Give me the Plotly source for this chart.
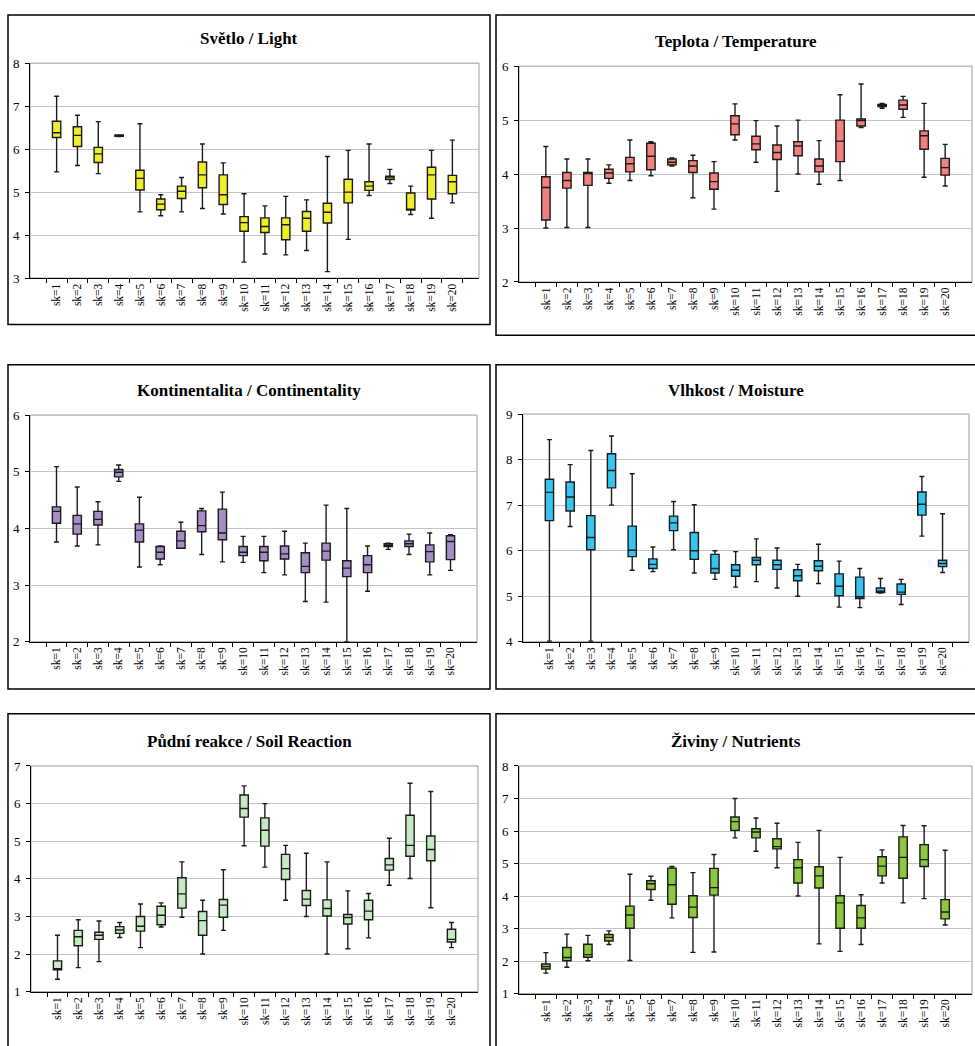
import plotly.graph_objects as go

cats = ["sk=%d" % i for i in range(1, 21)]

# Světlo / Light
light_lo = [5.47,5.62,5.43,6.29,4.54,4.45,4.54,4.62,4.49,3.37,3.56,3.54,3.64,3.15,3.90,4.92,5.20,4.48,4.39,4.75]
light_q1 = [6.27,6.06,5.69,6.30,5.05,4.59,4.85,5.10,4.71,4.09,4.06,3.89,4.09,4.28,4.75,5.04,5.29,4.58,4.84,4.96]
light_med = [6.38,6.32,5.89,6.31,5.32,4.72,5.02,5.40,4.94,4.29,4.20,4.24,4.39,4.53,5.00,5.14,5.33,4.60,5.40,5.24]
light_q3 = [6.65,6.52,6.04,6.33,5.51,4.84,5.14,5.70,5.40,4.43,4.40,4.40,4.55,4.74,5.30,5.24,5.37,4.98,5.58,5.39]
light_hi = [7.23,6.79,6.64,6.33,6.59,4.94,5.34,6.12,5.68,4.96,4.68,4.90,4.82,5.83,5.97,6.12,5.53,5.14,5.97,6.21]

# Teplota / Temperature
temp_lo = [3.00,3.01,3.01,3.83,3.88,3.97,4.15,3.56,3.35,4.63,4.22,3.68,4.00,3.81,3.88,4.86,5.22,5.05,3.94,3.78]
temp_q1 = [3.15,3.74,3.79,3.92,4.04,4.08,4.17,4.03,3.72,4.73,4.45,4.27,4.34,4.04,4.23,4.89,5.25,5.20,4.46,3.98]
temp_med = [3.75,3.88,4.01,4.02,4.19,4.33,4.22,4.15,3.86,4.93,4.56,4.40,4.52,4.15,4.61,4.99,5.27,5.28,4.71,4.12]
temp_q3 = [3.95,4.03,4.03,4.09,4.31,4.57,4.28,4.25,4.02,5.08,4.70,4.54,4.60,4.28,5.00,5.02,5.29,5.37,4.80,4.29]
temp_hi = [4.51,4.28,4.28,4.17,4.63,4.60,4.30,4.35,4.23,5.30,4.99,4.89,5.00,4.62,5.47,5.67,5.31,5.44,5.31,4.55]

# Kontinentalita / Continentality
cont_lo = [3.76,3.69,3.71,4.83,3.32,3.36,3.65,3.54,3.41,3.40,3.22,3.18,2.71,2.70,2.00,2.89,3.63,3.54,3.18,3.26]
cont_q1 = [4.09,3.90,4.06,4.91,3.76,3.46,3.65,3.94,3.80,3.52,3.43,3.46,3.22,3.44,3.15,3.22,3.68,3.68,3.41,3.45]
cont_med = [4.30,4.08,4.16,4.99,3.97,3.58,3.78,4.05,3.92,3.58,3.58,3.55,3.33,3.60,3.30,3.36,3.70,3.73,3.59,3.77]
cont_q3 = [4.38,4.23,4.30,5.04,4.08,3.68,3.95,4.31,4.34,3.68,3.68,3.69,3.57,3.74,3.43,3.52,3.73,3.78,3.71,3.87]
cont_hi = [5.09,4.73,4.47,5.12,4.55,3.69,4.11,4.35,4.64,3.86,3.86,3.95,3.74,4.41,4.35,3.69,3.74,3.90,3.92,3.89]

# Vlhkost / Moisture
moist_lo = [4.01,6.53,4.01,7.00,5.57,5.54,6.02,5.51,5.37,5.20,5.32,5.18,5.00,5.28,4.76,4.75,5.07,4.82,6.32,5.52]
moist_q1 = [6.66,6.87,6.02,7.38,5.87,5.61,6.44,5.81,5.51,5.44,5.69,5.59,5.34,5.56,5.01,4.95,5.08,5.04,6.78,5.65]
moist_med = [7.28,7.18,6.29,7.76,6.01,5.70,6.61,6.00,5.61,5.57,5.79,5.69,5.45,5.66,5.22,4.99,5.11,5.09,7.02,5.72]
moist_q3 = [7.57,7.51,6.77,8.13,6.54,5.82,6.76,6.40,5.92,5.69,5.85,5.79,5.58,5.78,5.49,5.42,5.18,5.27,7.29,5.79]
moist_hi = [8.44,7.89,8.20,8.52,7.69,6.08,7.08,7.01,6.00,5.98,6.26,6.06,5.70,6.14,5.77,5.61,5.39,5.37,7.63,6.81]

# Půdní reakce / Soil Reaction
soil_lo = [1.33,1.64,1.80,2.44,2.17,2.72,2.98,2.00,2.63,4.88,4.31,3.43,3.00,2.00,2.14,2.43,3.83,4.01,3.23,2.17]
soil_q1 = [1.58,2.22,2.39,2.55,2.61,2.78,3.22,2.50,2.98,5.64,4.87,3.98,3.29,3.01,2.80,2.91,4.23,4.60,4.48,2.32]
soil_med = [1.61,2.46,2.50,2.64,2.74,3.03,3.60,2.89,3.30,5.87,5.29,4.27,3.46,3.21,2.97,3.14,4.37,4.89,4.78,2.39]
soil_q3 = [1.82,2.63,2.58,2.73,3.00,3.27,4.03,3.13,3.45,6.23,5.62,4.65,3.69,3.44,3.05,3.43,4.54,5.69,5.14,2.66]
soil_hi = [2.50,2.91,2.88,2.84,3.33,3.36,4.45,3.43,4.24,6.47,6.00,4.89,4.68,4.45,3.68,3.61,5.08,6.54,6.32,2.84]

# Živiny / Nutrients
nutr_lo = [1.63,1.81,2.01,2.51,2.02,3.87,3.33,2.27,2.28,5.79,5.38,4.87,4.00,2.53,2.30,2.51,4.40,3.79,3.92,3.11]
nutr_q1 = [1.76,2.01,2.12,2.62,3.01,4.20,3.75,3.34,4.03,6.02,5.79,5.45,4.40,4.25,3.01,3.01,4.62,4.55,4.91,3.30]
nutr_med = [1.83,2.11,2.20,2.73,3.42,4.38,4.35,3.66,4.26,6.29,5.97,5.52,4.87,4.62,3.79,3.33,4.92,5.19,5.12,3.51]
nutr_q3 = [1.91,2.42,2.52,2.82,3.69,4.47,4.86,4.01,4.85,6.43,6.07,5.76,5.12,4.90,4.01,3.71,5.21,5.82,5.58,3.89]
nutr_hi = [2.26,2.83,2.79,2.93,4.67,4.61,4.91,4.72,5.28,7.00,6.40,6.24,5.65,6.02,5.19,4.04,5.42,6.17,6.16,5.41]

titles = ["Světlo / Light", "Teplota / Temperature", "Kontinentalita / Continentality",
          "Vlhkost / Moisture", "Půdní reakce / Soil Reaction", "Živiny / Nutrients"]

W, H = 975, 1046
FONT = "Liberation Serif, Times New Roman, serif"

panels = [
    dict(stats=(light_lo, light_q1, light_med, light_q3, light_hi), color="#EEEE2C", yr=(3, 8),
         frame=(8, 8, 490, 322), plot=(30, 57, 479, 275), ty=32),
    dict(stats=(temp_lo, temp_q1, temp_med, temp_q3, temp_hi), color="#F2807E", yr=(2, 6),
         frame=(496, 8, 980, 333), plot=(519, 60, 972, 279), ty=35),
    dict(stats=(cont_lo, cont_q1, cont_med, cont_q3, cont_hi), color="#A78DC6", yr=(2, 6),
         frame=(8, 363, 490, 692), plot=(30, 414, 477, 644), ty=389),
    dict(stats=(moist_lo, moist_q1, moist_med, moist_q3, moist_hi), color="#35C5EF", yr=(4, 9),
         frame=(496, 363, 980, 692), plot=(523, 413, 969, 644), ty=389),
    dict(stats=(soil_lo, soil_q1, soil_med, soil_q3, soil_hi), color="#C6E8C3", yr=(1, 7),
         frame=(8, 717, 490, 1060), plot=(31, 770, 478, 999), ty=745),
    dict(stats=(nutr_lo, nutr_q1, nutr_med, nutr_q3, nutr_hi), color="#8DC63F", yr=(1, 8),
         frame=(496, 717, 980, 1060), plot=(519, 770, 972, 1001), ty=745),
]


def px(x):
    return x / W


def py(y):
    return 1 - y / H


fig = go.Figure()
layout = dict(width=W, height=H, margin=dict(l=0, r=0, t=0, b=0),
              paper_bgcolor="white", plot_bgcolor="white", showlegend=False,
              font=dict(family=FONT, color="black"))
shapes = []
annotations = []

for i, p in enumerate(panels):
    n = "" if i == 0 else str(i + 1)
    lo, q1, med, q3, hi = p["stats"]
    fig.add_trace(go.Box(
        x=cats, q1=q1, median=med, q3=q3, lowerfence=lo, upperfence=hi,
        fillcolor=p["color"], line=dict(color="#1a1a1a", width=1.4),
        width=0.4, whiskerwidth=0.6, boxpoints=False,
        xaxis="x" + n, yaxis="y" + n, showlegend=False))
    x0, y0, x1, y1 = p["plot"]
    layout["xaxis" + n] = dict(
        domain=[px(x0), min(px(x1), 1)], anchor="y" + n, type="category",
        showline=True, linecolor="black", linewidth=1, ticks="outside", tickson="boundaries",
        ticklen=4, tickcolor="black", tickangle=-90, showgrid=False,
        tickfont=dict(family=FONT, size=11.5, color="black"), fixedrange=True)
    layout["yaxis" + n] = dict(
        domain=[py(y1), py(y0)], anchor="x" + n, range=list(p["yr"]), dtick=1,
        showline=True, linecolor="black", linewidth=1, ticks="outside", ticklen=4,
        tickcolor="black", showgrid=True, gridcolor="#C4C4C4", gridwidth=1, zeroline=False,
        ticklabelstandoff=3,
        tickfont=dict(family=FONT, size=13, color="black"), fixedrange=True)
    shapes.append(dict(type="rect", xref="x%s domain" % n, yref="y%s domain" % n,
                       x0=0, x1=1, y0=0, y1=1, line=dict(color="#9A9A9A", width=1), layer="below"))
    fx0, fy0, fx1, fy1 = p["frame"]
    shapes.append(dict(type="rect", xref="paper", yref="paper",
                       x0=px(fx0), x1=px(fx1), y0=py(fy1), y1=py(fy0),
                       line=dict(color="black", width=1.5), layer="above"))
    cx = (fx0 + min(fx1, 975)) / 2
    annotations.append(dict(text="<b>%s</b>" % titles[i], xref="paper", yref="paper",
                            x=px(cx), y=py(p["ty"]),
                            xanchor="center", yanchor="middle", showarrow=False,
                            font=dict(family=FONT, size=17, color="black")))

layout["shapes"] = shapes
layout["annotations"] = annotations
fig.update_layout(**layout)
fig.write_html("out.html", config={"displayModeBar": False, "staticPlot": True},
               post_script="document.body.style.margin='0';document.body.style.overflow='hidden';")
